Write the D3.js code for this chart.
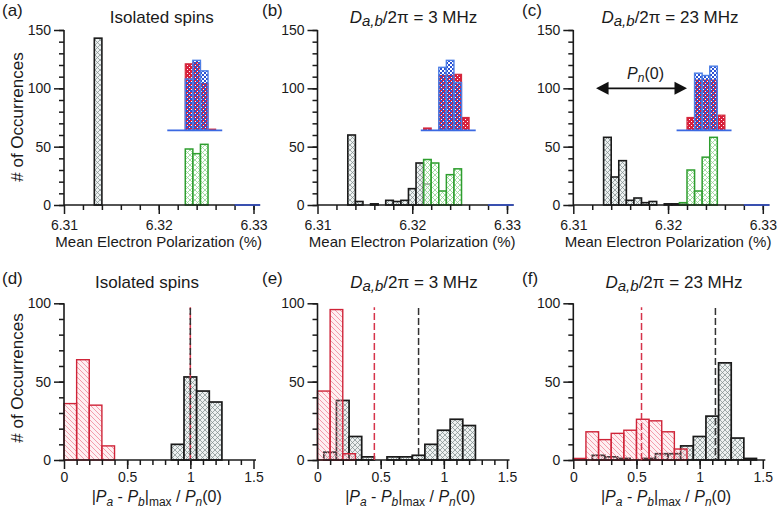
<!DOCTYPE html>
<html><head><meta charset="utf-8">
<script src="https://cdn.jsdelivr.net/npm/d3@7/dist/d3.min.js"></script>
<style>
body{margin:0;background:#fff}
svg{display:block}
text{font-family:"Liberation Sans",Arial,Helvetica,sans-serif;fill:#1a1a1a}
</style>
</head><body>
<svg id="c" width="781" height="512"></svg>
<script>
// ================= DATA =================
const topBinStart = 6.3132;
const topBinWidth = 0.0008;
const topXTicks = [6.31, 6.32, 6.33];
const topYTicks = [0, 50, 100, 150];
const botXTicks = [0, 0.5, 1, 1.5];
const botYTicks = [0, 50, 100];
const redBinStart = 0;
const blackBinStart = 0.05;
const botBinWidth = 0.1;

const panelLetters = ["(a)", "(b)", "(c)", "(d)", "(e)", "(f)"];
const couplings = [null, "3", "23"];   // MHz, null = isolated spins

// top row: counts per bin, index k -> bin [start + k*w, start + (k+1)*w]
const aBlack = [143];
const aGreen = [0,0,0,0,0,0,0,0,0,0,0,0,48,44,52];
const aRed   = [0,0,0,0,0,0,0,0,0,0,0,0,57,58,40,1];
const aBlue  = [0,0,0,0,0,0,0,0,0,0,0,0,44,60,51];

const bBlack = [60,3,0,1,0,4,3,4,14,36,18];
const bGreen = [0,0,0,0,0,0,0,0,0,0,39,36,12,26,31];
const bRed   = [0,0,0,0,0,0,0,0,0,0,2,0,47,47,48,11];
const bBlue  = [0,0,0,0,0,0,0,0,0,0,0,0,54,60,41];

const cBlack = [58,24,38,4,6,2,3,0,1,1,1];
const cGreen = [0,0,0,0,0,0,0,0,0,0,2,30,12,41,58];
const cRed   = [0,0,0,0,0,0,0,0,0,0,0,11,43,43,43,13];
const cBlue  = [0,0,0,0,0,0,0,0,0,0,0,0,49,47,55];

const insetSpan = [6.3209, 6.3267];   // baseline of the P_a / P_b sub-histograms
const tailSpan  = [6.3280, 6.3307];   // empty tail bins on the x axis
const arrowSpan = [6.3124, 6.3220];   // P_n(0) arrow in (c)
const arrowLevel = 100;

// bottom row
const dRed   = [36,64,35,9];
const dBlack = [0,0,0,0,0,0,0,0,10,53,44,37];
const eRed   = [44,96,4];
const eBlack = [5,38,15,2,0,2,2,3,10,19,26,22];
const fRed   = [1,18,13,17,19,26,25,18,7];
const fBlack = [0,3,2,1,0,1,4,4,9,15,28,62,14,1];

const meanRed   = [1, 0.45, 0.54];
const meanBlack = [1, 0.80, 1.125];

// ================= LAYOUT =================
const lefts = [64, 317.5, 573.3];
const plotW = 189.5;
const topY = [205, 30];
const botY = [460, 303.3];
const insetBase = 64;
const FONT = '"Liberation Sans",Arial,Helvetica,sans-serif';

const svg = d3.select("#c");
const defs = svg.append("defs");
function pattern(id, size, bg) {
  const p = defs.append("pattern").attr("id", id)
    .attr("patternUnits", "userSpaceOnUse").attr("width", size).attr("height", size);
  if (bg) p.append("rect").attr("width", size).attr("height", size).attr("fill", bg);
  return p;
}
pattern("hBlack", 5, "#edf1f1").append("path").attr("d", "M0,0L5,5M5,0L0,5")
  .attr("stroke", "#7d8a8a").attr("stroke-width", 0.7);
pattern("hGreen", 5, "rgba(255,255,255,0.55)").append("path").attr("d", "M0,0L5,5M5,0L0,5")
  .attr("stroke", "#8fd68f").attr("stroke-width", 0.8);
pattern("hRed", 5, "rgba(250,185,195,0.22)").append("path").attr("d", "M0,0L5,5M-1,4L1,6M4,-1L6,1")
  .attr("stroke", "#f08898").attr("stroke-width", 0.8);
{
  const p = pattern("cRed", 4, "#d8203c");
  p.append("rect").attr("x", 3).attr("y", 1).attr("width", 1).attr("height", 1).attr("fill", "#fff");
  p.append("rect").attr("x", 1).attr("y", 3).attr("width", 1).attr("height", 1).attr("fill", "#fff");
  const q = pattern("cBlue", 4, null);
  q.append("rect").attr("x", 0).attr("y", 0).attr("width", 2).attr("height", 2).attr("fill", "#2c52d2");
  q.append("rect").attr("x", 2).attr("y", 2).attr("width", 2).attr("height", 2).attr("fill", "#2c52d2");
}

function drawBars(g, counts, start, w, x, y, base, fill, stroke, sw) {
  const items = counts.map((c, k) => ({c, k})).filter(d => d.c > 0);
  g.append("g").selectAll("rect").data(items).join("rect")
    .attr("x", d => x(start + d.k * w))
    .attr("width", d => x(start + (d.k + 1) * w) - x(start + d.k * w))
    .attr("y", d => y(base + d.c))
    .attr("height", d => y(base) - y(base + d.c))
    .attr("fill", fill).attr("stroke", stroke).attr("stroke-width", sw);
}

function drawAxes(g, x, y, xMajor, xMinor, xEnd, yMajor, yMinor, fmt, labelY) {
  const y0 = y(0);
  const ax = g.append("g").attr("transform", `translate(0,${y0})`);
  ax.call(d3.axisBottom(x).tickValues(xMinor).tickSize(5).tickFormat(""));
  ax.select(".domain").remove();
  const ax2 = g.append("g").attr("transform", `translate(0,${y0})`);
  ax2.call(d3.axisBottom(x).tickValues(xMajor).tickSize(9).tickFormat(fmt));
  ax2.select(".domain").remove();
  ax2.selectAll("text").attr("dy", null).attr("y", labelY).style("font-size", "14px").style("font-family", FONT);
  const ay = g.append("g").attr("transform", `translate(${x.range()[0]},0)`);
  ay.call(d3.axisLeft(y).tickValues(yMinor).tickSize(5).tickFormat(""));
  ay.select(".domain").remove();
  const ay2 = g.append("g").attr("transform", `translate(${x.range()[0]},0)`);
  ay2.call(d3.axisLeft(y).tickValues(yMajor).tickSize(10).tickPadding(3));
  ay2.select(".domain").remove();
  ay2.selectAll("text").style("font-size", "14px").style("font-family", FONT);
  g.selectAll(".tick line").attr("stroke", "#1a1a1a").attr("stroke-width", 1.5);
  g.append("line").attr("x1", x.range()[0]).attr("x2", x(xEnd)).attr("y1", y0).attr("y2", y0)
    .attr("stroke", "#1a1a1a").attr("stroke-width", 1.6);
  g.append("line").attr("x1", x.range()[0]).attr("x2", x.range()[0])
    .attr("y1", y0).attr("y2", y(yMajor[yMajor.length - 1]))
    .attr("stroke", "#1a1a1a").attr("stroke-width", 1.6);
}

function titleText(g, cx, baseline, coupling) {
  const t = g.append("text").attr("x", cx).attr("y", baseline).attr("text-anchor", "middle")
    .style("font-size", "17px");
  if (coupling === null) { t.text("Isolated spins"); return; }
  t.append("tspan").style("font-style", "italic").text("D");
  t.append("tspan").style("font-style", "italic").style("font-size", "15px").attr("dy", 3).text("a,b");
  t.append("tspan").attr("dy", -3).text("/2\u03c0 = " + coupling + " MHz");
}

function letter(g, x, y, s) {
  g.append("text").attr("x", x).attr("y", y).style("font-size", "17px").text(s);
}

// ================= TOP ROW =================
const topData = [
  {black: aBlack, green: aGreen, red: aRed, blue: aBlue},
  {black: bBlack, green: bGreen, red: bRed, blue: bBlue},
  {black: cBlack, green: cGreen, red: cRed, blue: cBlue}
];
const topTitleX = [161.7, 413.5, 670];
const botTitleX = [147, 414, 674];

topData.forEach((p, i) => {
  const g = svg.append("g");
  const L = lefts[i];
  const x = d3.scaleLinear().domain([6.31, 6.33]).range([L, L + plotW]);
  const y = d3.scaleLinear().domain([0, 150]).range(topY);
  drawBars(g, p.black, topBinStart, topBinWidth, x, y, 0, "url(#hBlack)", "#1a1a1a", 1.6);
  drawBars(g, p.green, topBinStart, topBinWidth, x, y, 0, "url(#hGreen)", "#2e9e2e", 1.5);
  // inset sub-histograms
  drawBars(g, p.red, topBinStart, topBinWidth, x, y, insetBase, "url(#cRed)", "#d42a3c", 1.2);
  drawBars(g, p.blue, topBinStart, topBinWidth, x, y, insetBase, "url(#cBlue)", "#4d7fe6", 1.4);
  g.append("line").attr("x1", x(insetSpan[0])).attr("x2", x(insetSpan[1]))
    .attr("y1", y(insetBase)).attr("y2", y(insetBase)).attr("stroke", "#3b69e2").attr("stroke-width", 1.6);
  drawAxes(g, x, y, topXTicks, d3.range(6.312, 6.3305, 0.002), 6.3307, topYTicks, d3.range(0, 151, 10), d3.format(".2f"), 25);
  g.append("line").attr("x1", x(tailSpan[0])).attr("x2", x(tailSpan[1]))
    .attr("y1", y(0)).attr("y2", y(0)).attr("stroke", "#3450c8").attr("stroke-width", 1.6);
  titleText(g, topTitleX[i], 23, couplings[i]);
  letter(g, [2, 262, 522][i], 16, panelLetters[i]);
  g.append("text").attr("x", L + plotW / 2).attr("y", 247).attr("text-anchor", "middle")
    .style("font-size", "15px").text("Mean Electron Polarization (%)");
  if (i === 2) {
    const ya = y(arrowLevel), xa = x(arrowSpan[0]), xb = x(arrowSpan[1]);
    g.append("line").attr("x1", xa + 10).attr("x2", xb - 10).attr("y1", ya).attr("y2", ya)
      .attr("stroke", "#111").attr("stroke-width", 1.6);
    g.append("path").attr("d", `M${xa},${ya}L${xa + 12.5},${ya - 6.5}L${xa + 12.5},${ya + 6.5}Z`).attr("fill", "#111");
    g.append("path").attr("d", `M${xb},${ya}L${xb - 12.5},${ya - 6.5}L${xb - 12.5},${ya + 6.5}Z`).attr("fill", "#111");
    const t = g.append("text").attr("x", (xa + xb) / 2 + 4).attr("y", ya - 9).attr("text-anchor", "middle")
      .style("font-size", "16px");
    t.append("tspan").style("font-style", "italic").text("P");
    t.append("tspan").style("font-style", "italic").style("font-size", "12px").attr("dy", 3).text("n");
    t.append("tspan").attr("dy", -3).text("(0)");
  }
});
svg.append("text").attr("transform", "translate(23,117) rotate(-90)").attr("text-anchor", "middle")
  .style("font-size", "17px").text("# of Occurrences");

// ================= BOTTOM ROW =================
const botData = [
  {red: dRed, black: dBlack},
  {red: eRed, black: eBlack},
  {red: fRed, black: fBlack}
];
botData.forEach((p, i) => {
  const g = svg.append("g");
  const L = lefts[i];
  const x = d3.scaleLinear().domain([0, 1.5]).range([L, L + plotW]);
  const y = d3.scaleLinear().domain([0, 100]).range(botY);
  drawBars(g, p.black, blackBinStart, botBinWidth, x, y, 0, "url(#hBlack)", "#1a1a1a", 1.7);
  drawBars(g, p.red, redBinStart, botBinWidth, x, y, 0, "url(#hRed)", "#cf2438", 1.4);
  drawAxes(g, x, y, botXTicks, d3.range(0.1, 1.5, 0.1), 1.52, botYTicks, d3.range(0, 101, 10), d3.format(""), 22);
  g.append("line").attr("x1", x(meanRed[i])).attr("x2", x(meanRed[i]))
    .attr("y1", y(0)).attr("y2", y(97.5)).attr("stroke", "#d6334a").attr("stroke-width", 1.5)
    .attr("stroke-dasharray", "7,3");
  g.append("line").attr("x1", x(meanBlack[i])).attr("x2", x(meanBlack[i]))
    .attr("y1", y(0)).attr("y2", y(97.5)).attr("stroke", "#333").attr("stroke-width", 1.5)
    .attr("stroke-dasharray", "7,3").attr("stroke-dashoffset", 5);
  titleText(g, botTitleX[i], 288, couplings[i]);
  letter(g, [2, 262, 522][i], 284, panelLetters[i + 3]);
  const t = g.append("text").attr("x", L + plotW / 2 - 2).attr("y", 502).attr("text-anchor", "middle")
    .style("font-size", "16px");
  t.append("tspan").text("|");
  t.append("tspan").style("font-style", "italic").text("P");
  t.append("tspan").style("font-style", "italic").style("font-size", "12px").attr("dy", 4).text("a");
  t.append("tspan").attr("dy", -4).text(" - ");
  t.append("tspan").style("font-style", "italic").text("P");
  t.append("tspan").style("font-style", "italic").style("font-size", "12px").attr("dy", 4).text("b");
  t.append("tspan").attr("dy", -4).text("|");
  t.append("tspan").style("font-size", "12px").attr("dy", 4).text("max");
  t.append("tspan").attr("dy", -4).text(" / ");
  t.append("tspan").style("font-style", "italic").text("P");
  t.append("tspan").style("font-style", "italic").style("font-size", "12px").attr("dy", 4).text("n");
  t.append("tspan").attr("dy", -4).text("(0)");
});
svg.append("text").attr("transform", "translate(23,378) rotate(-90)").attr("text-anchor", "middle")
  .style("font-size", "17px").text("# of Occurrences");
</script>
</body></html>
